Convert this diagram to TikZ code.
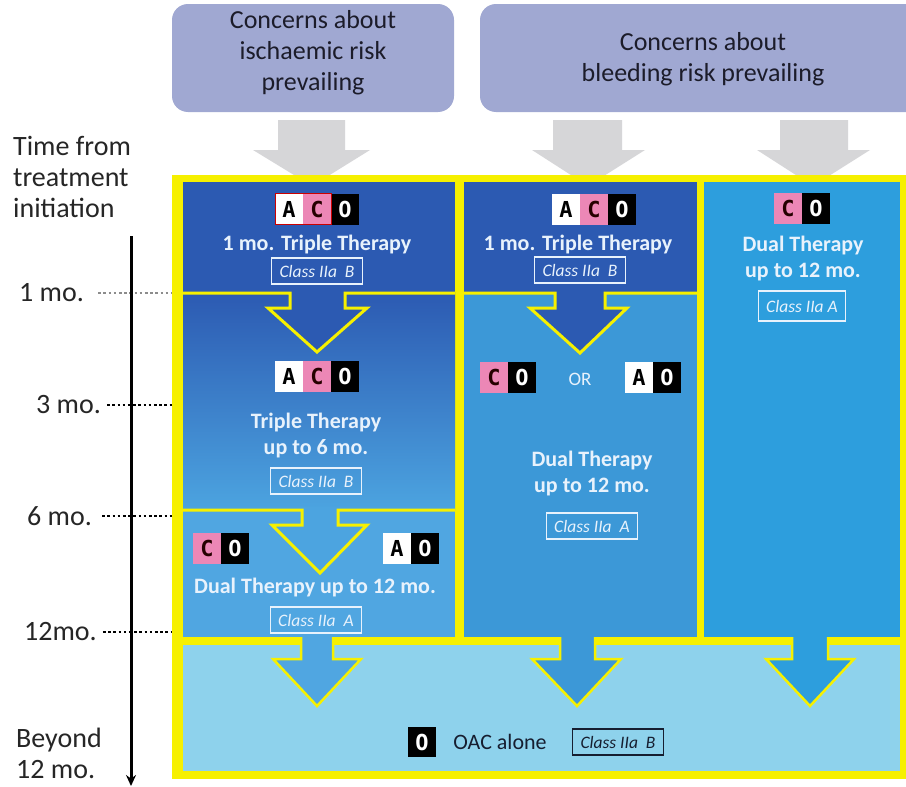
\documentclass[tikz,border=0pt]{standalone}
\usepackage{fontspec}
\setmainfont{Carlito}
\newfontfamily\badgefont{DejaVu Sans Mono}
\usetikzlibrary{positioning,arrows.meta}
\definecolor{hdrfill}{RGB}{160,168,210}
\definecolor{hdrink}{RGB}{28,28,42}
\definecolor{greyarrow}{RGB}{214,214,216}
\definecolor{frameyellow}{RGB}{246,240,0}
\definecolor{darkpanel}{RGB}{44,90,178}
\definecolor{gradlow}{RGB}{76,164,224}
\definecolor{lightpanel}{RGB}{80,166,225}
\definecolor{midpanel}{RGB}{60,152,215}
\definecolor{rightpanel}{RGB}{45,158,221}
\definecolor{bottompanel}{RGB}{142,210,236}
\definecolor{paletext}{RGB}{232,242,252}
\definecolor{pinkC}{RGB}{236,135,182}
\definecolor{timeink}{RGB}{38,38,38}
\definecolor{darkink}{RGB}{22,30,48}

\tikzset{
  hdrbox/.style={fill=hdrfill, rounded corners=16pt},
  hdrlabel/.style={text=hdrink, align=center, font=\fontsize{26}{31}\selectfont},
  timelabel/.style={text=timeink, align=left, inner sep=0pt, font=\fontsize{28}{31}\selectfont},
  tickline/.style={line width=2.6pt, dash pattern=on 2.6pt off 2.6pt},
  divider/.style={draw=frameyellow, line width=3pt, line join=miter},
  therapy/.style={text=paletext, align=center, font=\bfseries\fontsize{22}{26}\selectfont},
  classbox/.style={draw=paletext, line width=1.3pt, text=paletext, inner xsep=8pt, inner ysep=0pt,
    minimum height=26pt, font=\itshape\fontsize{17.5}{17.5}\selectfont},
  letter/.style={minimum width=28pt, minimum height=31pt, inner sep=0pt, outer sep=0pt,
    font=\badgefont\bfseries\fontsize{22}{22}\selectfont},
  lettA/.style={letter, fill=white, text=black},
  lettC/.style={letter, fill=pinkC, text=black!85!red},
  lettO/.style={letter, fill=black, text=white},
}

\begin{document}
\begin{tikzpicture}[x=1pt,y=-1pt]
\clip (0,0) rectangle (906,787);
\fill[white] (0,0) rectangle (906,787);

\fill[hdrbox] (172,4) rectangle (454,112);
\fill[hdrbox] (480,4) rectangle (940,112);
\node[hdrlabel] (ischaemic) at (313,53) {Concerns about\\ischaemic risk\\prevailing};
\node[hdrlabel] (bleeding) at (703,59) {Concerns about\\bleeding risk prevailing};

\fill[greyarrow] (278,120) -- (345,120) -- (345,150) -- (370,150) -- (312,186) -- (253,150) -- (278,150) -- cycle;
\fill[greyarrow] (553,120) -- (622,120) -- (622,150) -- (645,150) -- (588,186) -- (532,150) -- (553,150) -- cycle;
\fill[greyarrow] (780,120) -- (848,120) -- (848,150) -- (870,150) -- (813,186) -- (757,150) -- (780,150) -- cycle;

\fill[frameyellow] (172,175) rectangle (912,779);
\fill[darkpanel] (183,182) rectangle (455,292);
\shade[top color=darkpanel, bottom color=gradlow] (183,292) rectangle (455,510);
\fill[lightpanel] (183,510) rectangle (455,637);
\fill[darkpanel] (464,182) rectangle (697,292);
\fill[midpanel] (464,292) rectangle (697,637);
\fill[rightpanel] (704,182) rectangle (900,637);
\fill[bottompanel] (183,645) rectangle (900,771);

\fill[darkpanel] (290,290) -- (290,308) -- (268,308) -- (317,352) -- (367,308) -- (345,308) -- (345,290) -- cycle;
\draw[divider] (183,293) -- (290,293) -- (290,308) -- (268,308) -- (317,352) -- (367,308) -- (345,308) -- (345,293) -- (455,293);
\fill[gradlow] (302,507) -- (302,525) -- (272,525) -- (320,573) -- (367,525) -- (338,525) -- (338,507) -- cycle;
\draw[divider] (183,510) -- (302,510) -- (302,525) -- (272,525) -- (320,573) -- (367,525) -- (338,525) -- (338,510) -- (455,510);
\fill[darkpanel] (555,290) -- (555,308) -- (530,308) -- (580,353) -- (627,308) -- (605,308) -- (605,290) -- cycle;
\draw[divider] (464,293) -- (555,293) -- (555,308) -- (530,308) -- (580,353) -- (627,308) -- (605,308) -- (605,293) -- (697,293);

\fill[lightpanel] (301,630) -- (301,659) -- (273,659) -- (317,706) -- (361,659) -- (333,659) -- (333,630) -- cycle;
\draw[divider, line width=2.5pt] (301,637) -- (301,659) -- (273,659) -- (317,706) -- (361,659) -- (333,659) -- (333,637);
\fill[midpanel] (560,630) -- (560,659) -- (532,659) -- (577,706) -- (621,659) -- (595,659) -- (595,630) -- cycle;
\draw[divider, line width=2.5pt] (560,637) -- (560,659) -- (532,659) -- (577,706) -- (621,659) -- (595,659) -- (595,637);
\fill[rightpanel] (792,630) -- (792,659) -- (766,659) -- (810,706) -- (854,659) -- (828,659) -- (828,630) -- cycle;
\draw[divider, line width=2.5pt] (792,637) -- (792,659) -- (766,659) -- (810,706) -- (854,659) -- (828,659) -- (828,637);

\node[lettA] (topA) at (289,209) {A};
\node[lettC, right=0pt of topA] (topC) {C};
\node[lettO, right=0pt of topC] (topO) {O};
\draw[red!80!black, line width=1pt] (topA.north west) rectangle (topC.south east);
\node[therapy] (tripleOne) at (317,245) {1 mo. Triple Therapy};
\node[classbox] (classOne) at (317,271) {Class IIa~~B};

\node[lettA] (midA) at (289,376) {A};
\node[lettC, right=0pt of midA] (midC) {C};
\node[lettO, right=0pt of midC] (midO) {O};
\node[therapy] (tripleSix) at (316,436) {Triple Therapy\\up to 6 mo.};
\node[classbox] (classSix) at (316,481) {Class IIa~~B};

\node[lettC] (lowC) at (207,548) {C};
\node[lettO, right=0pt of lowC] (lowO) {O};
\node[lettA] (lowA) at (397,548) {A};
\node[lettO, right=0pt of lowA] (lowAO) {O};
\node[therapy] (dualOne) at (315,588) {Dual Therapy up to 12 mo.};
\node[classbox] (classDualOne) at (316,620) {Class IIa~~A};

\node[lettA] (bleedA) at (566,209) {A};
\node[lettC, right=0pt of bleedA] (bleedC) {C};
\node[lettO, right=0pt of bleedC] (bleedO) {O};
\node[therapy] (tripleTwo) at (578,245) {1 mo. Triple Therapy};
\node[classbox] (classTwo) at (580,270) {Class IIa~~B};

\node[lettC] (orC) at (494,377) {C};
\node[lettO, right=0pt of orC] (orCO) {O};
\node[text=paletext, font=\fontsize{19}{19}\selectfont] (orword) at (580,379) {OR};
\node[lettA] (orA) at (639,377) {A};
\node[lettO, right=0pt of orA] (orAO) {O};
\node[therapy] (dualTwo) at (592,474) {Dual Therapy\\up to 12 mo.};
\node[classbox] (classDualTwo) at (592,526) {Class IIa~~A};

\node[lettC] (rightC) at (788,208) {C};
\node[lettO, right=0pt of rightC] (rightO) {O};
\node[therapy] (dualThree) at (803,259) {Dual Therapy\\up to 12 mo.};
\node[classbox, minimum height=30pt] (classDualThree) at (802,306) {Class IIa~A};

\node[lettO, minimum height=30pt] (oacO) at (422,742) {O};
\node[text=darkink, font=\fontsize{22}{22}\selectfont] (oacword) at (500,742) {OAC alone};
\node[classbox, draw=darkink, text=darkink] (classOac) at (618,742) {Class IIa~~B};

\coordinate (frameL) at (172,0);
\node[timelabel, anchor=west] (timefrom) at (13,177) {Time from\\treatment\\initiation};
\node[timelabel, anchor=west] (oneMo) at (19,293) {1 mo.};
\node[timelabel, anchor=west] (threeMo) at (36,405) {3 mo.};
\node[timelabel, anchor=west] (sixMo) at (27,516) {6 mo.};
\node[timelabel, anchor=west] (twelveMo) at (24,632) {12mo.};
\node[timelabel, anchor=west] (beyond) at (16,753) {Beyond\\12 mo.};
\draw[tickline, black!45, line width=1.8pt] ([xshift=14pt]oneMo.east) -- (oneMo.east -| frameL);
\draw[tickline] ([xshift=6pt]threeMo.east) -- (threeMo.east -| frameL);
\draw[tickline] ([xshift=10pt]sixMo.east) -- (sixMo.east -| frameL);
\draw[tickline] ([xshift=6pt]twelveMo.east) -- (twelveMo.east -| frameL);
\coordinate (axisTop) at (131,236);
\coordinate (axisEnd) at (131,786);
\draw[line width=3pt, -{Stealth[length=11pt,width=10pt]}] (axisTop) -- (axisEnd);
\end{tikzpicture}
\end{document}
